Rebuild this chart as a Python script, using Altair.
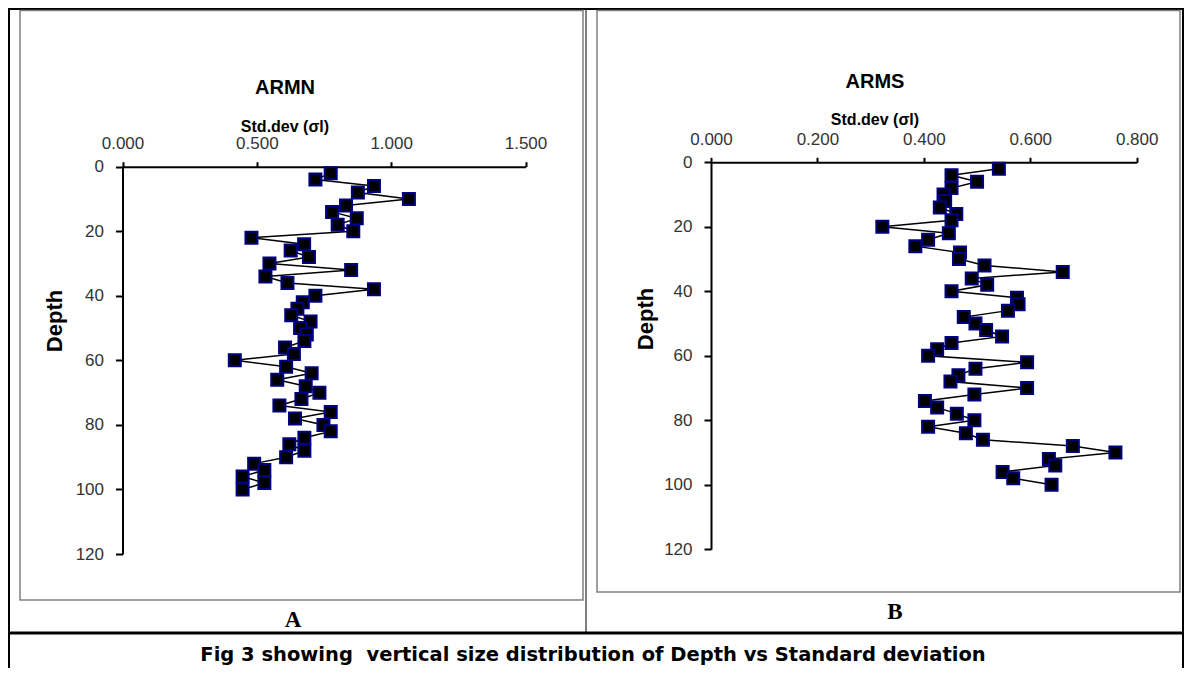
import altair as alt
import pandas as pd

# ---------------- data ----------------
depth = [2, 4, 6, 8, 10, 12, 14, 16, 18, 20, 22, 24, 26, 28, 30, 32, 34, 36, 38, 40,
         42, 44, 46, 48, 50, 52, 54, 56, 58, 60, 62, 64, 66, 68, 70, 72, 74, 76, 78, 80,
         82, 84, 86, 88, 90, 92, 94, 96, 98, 100]

armn_std = [0.775, 0.718, 0.936, 0.876, 1.066, 0.832, 0.780, 0.872, 0.801, 0.859,
            0.480, 0.676, 0.626, 0.694, 0.547, 0.851, 0.532, 0.614, 0.936, 0.718,
            0.671, 0.651, 0.628, 0.700, 0.661, 0.686, 0.677, 0.605, 0.638, 0.418,
            0.609, 0.704, 0.576, 0.682, 0.733, 0.666, 0.584, 0.775, 0.642, 0.748,
            0.775, 0.677, 0.621, 0.677, 0.609, 0.490, 0.528, 0.447, 0.528, 0.447]

arms_std = [0.541, 0.452, 0.500, 0.452, 0.437, 0.440, 0.430, 0.461, 0.452, 0.322,
            0.447, 0.408, 0.384, 0.468, 0.466, 0.514, 0.661, 0.490, 0.519, 0.452,
            0.575, 0.578, 0.558, 0.475, 0.497, 0.517, 0.547, 0.452, 0.425, 0.408,
            0.594, 0.497, 0.465, 0.450, 0.594, 0.495, 0.402, 0.425, 0.462, 0.495,
            0.408, 0.479, 0.511, 0.680, 0.760, 0.635, 0.647, 0.548, 0.568, 0.640]

depth_ticks = [0, 20, 40, 60, 80, 100, 120]
armn_ticks = [0.0, 0.5, 1.0, 1.5]
arms_ticks = [0.0, 0.2, 0.4, 0.6, 0.8]

titles = ["ARMN", "ARMS"]
axis_title = "Std.dev (σl)"
y_title = "Depth"
panel_letters = ["A", "B"]
caption = "Fig 3 showing \u00a0vertical size distribution of Depth vs Standard deviation"

W, H = 1176, 660
LABEL_FONT = "Liberation Sans"


def panel(values, xdomain, xticks, xrange, yrange):
    df = pd.DataFrame({"depth": depth, "std": values})
    xs = alt.Scale(domain=xdomain, range=xrange, nice=False, zero=False)
    ys = alt.Scale(domain=[0, 120], range=yrange, nice=False, zero=False)
    xaxis = alt.Axis(orient="top", values=xticks, format=".3f", title=None,
                     offset=-yrange[0], grid=False, labelFlush=False,
                     domainColor="black", domainWidth=2, tickColor="black",
                     tickWidth=2, tickSize=5, labelPadding=9,
                     labelFont=LABEL_FONT, labelFontSize=17, labelColor="#333333")
    yaxis = alt.Axis(orient="left", values=depth_ticks, format="d", title=None,
                     offset=-xrange[0], grid=False, labelFlush=False,
                     domainColor="black", domainWidth=2, tickColor="black",
                     tickWidth=2, tickSize=7, labelPadding=12,
                     labelFont=LABEL_FONT, labelFontSize=17, labelColor="#333333")
    base = alt.Chart(df)
    line = base.mark_line(color="black", strokeWidth=1.5).encode(
        x=alt.X("std:Q", scale=xs, axis=xaxis),
        y=alt.Y("depth:Q", scale=ys, axis=yaxis),
        order="depth:Q",
    )
    pts = base.mark_square(size=144, fill="black", stroke="#000080",
                           strokeWidth=2, opacity=1).encode(
        x=alt.X("std:Q", scale=xs),
        y=alt.Y("depth:Q", scale=ys),
    )
    return alt.layer(line, pts)


panelA = panel(armn_std, [0, 1.5], armn_ticks, [114.5, 517.5], [158.7, 546])
panelB = panel(arms_std, [0, 0.8], arms_ticks, [703, 1128.7], [154.3, 541.3])

one = pd.DataFrame({"k": [0]})


def text(t, x, y, size, bold=True, font=LABEL_FONT, angle=0):
    kw = dict(fontSize=size, font=font, fontWeight="bold" if bold else "normal",
              align="center", baseline="middle", color="black")
    if angle:
        kw["angle"] = angle
    return alt.Chart(pd.DataFrame({"t": [t]})).mark_text(**kw).encode(
        text="t:N", x=alt.value(x), y=alt.value(y))


def rule(x1, y1, x2, y2, w, color="black"):
    return alt.Chart(one).mark_rule(color=color, strokeWidth=w).encode(
        x=alt.value(x1), x2=alt.value(x2), y=alt.value(y1), y2=alt.value(y2))


def box(x1, y1, x2, y2, color="#808080", w=1.5):
    return alt.Chart(one).mark_rect(fillOpacity=0, stroke=color, strokeWidth=w).encode(
        x=alt.value(x1), x2=alt.value(x2), y=alt.value(y1), y2=alt.value(y2))


decor = [
    # table borders
    rule(0, 0.75, W, 0.75, 2.5),
    rule(1, 0, 1, H, 2),
    rule(1175, 0, 1175, H, 2),
    rule(578, 0, 578, 625, 1),
    rule(0, 625, W, 625, 3),
    # chart boxes
    box(12, 2.5, 575, 592),
    box(589, 2.5, 1172, 584),
    # titles
    text(titles[0], 277, 80, 20),
    text(axis_title, 277, 119, 16),
    text(titles[1], 867, 74, 20),
    text(axis_title, 867, 112, 16),
    text(y_title, 47, 313, 22, angle=270),
    text(y_title, 638, 311, 22, angle=270),
    text(panel_letters[0], 285, 612, 23, font="Liberation Serif"),
    text(panel_letters[1], 887, 604, 23, font="Liberation Serif"),
    text(caption, 585, 647, 19.5, font="DejaVu Sans"),
]

chart = alt.layer(panelA, panelB, *decor).resolve_scale(
    x="independent", y="independent"
).properties(
    width=W, height=H, autosize=alt.AutoSizeParams(type="none"), padding=0,
    background="white"
).configure_view(stroke=None)

chart.save("out.html", embed_options={"renderer": "svg", "actions": False})
